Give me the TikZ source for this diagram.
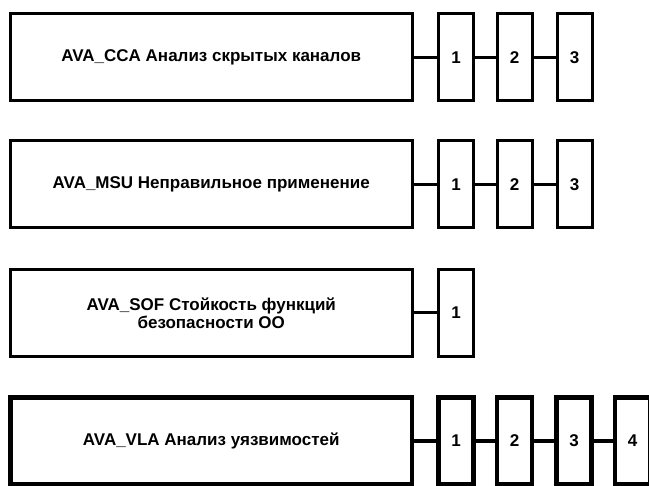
\documentclass[tikz,border=0pt]{standalone}
\usepackage{fontspec}
\setmainfont{Liberation Sans}
\begin{document}
\begin{tikzpicture}[x=1pt,y=-1pt,
  bigbox/.style={draw,rectangle,minimum width=401.5pt,minimum height=87pt,inner sep=0pt,
    font=\fontsize{17}{18}\selectfont\bfseries,align=center},
  smallbox/.style={draw,rectangle,minimum width=35pt,minimum height=87pt,inner sep=0pt,
    font=\fontsize{17}{18}\selectfont\bfseries},
  thin/.style={line width=3pt},
  thick4/.style={line width=4.5pt}]
\useasboundingbox (0,0) rectangle (649,486);
% row 1
\begin{scope}[thin]
\node[bigbox] (cca) at (211.25,57.5) {AVA\_CCA Анализ скрытых каналов};
\node[smallbox] (cca1) at (456,57.5) {1};
\node[smallbox] (cca2) at (514.5,57.5) {2};
\node[smallbox] (cca3) at (574.5,57.5) {3};
\draw (cca.east) -- (cca1.west);
\draw (cca1.east) -- (cca2.west);
\draw (cca2.east) -- (cca3.west);
\end{scope}
% row 2
\begin{scope}[thin]
\node[bigbox] (msu) at (211.25,184.5) {AVA\_MSU Неправильное применение};
\node[smallbox] (msu1) at (456,184.5) {1};
\node[smallbox] (msu2) at (514.5,184.5) {2};
\node[smallbox] (msu3) at (574.5,184.5) {3};
\draw (msu.east) -- (msu1.west);
\draw (msu1.east) -- (msu2.west);
\draw (msu2.east) -- (msu3.west);
\end{scope}
% row 3
\begin{scope}[thin]
\node[bigbox] (sof) at (211.25,313) {AVA\_SOF Стойкость функций\\безопасности ОО};
\node[smallbox] (sof1) at (456,313) {1};
\draw (sof.east) -- (sof1.west);
\end{scope}
% row 4
\begin{scope}[thick4]
\node[bigbox] (vla) at (211.25,441) {AVA\_VLA Анализ уязвимостей};
\node[smallbox] (vla1) at (456,441) {1};
\node[smallbox] (vla2) at (514.5,441) {2};
\node[smallbox] (vla3) at (574,441) {3};
\node[smallbox] (vla4) at (632.5,441) {4};
\draw (vla.east) -- (vla1.west);
\draw (vla1.east) -- (vla2.west);
\draw (vla2.east) -- (vla3.west);
\draw (vla3.east) -- (vla4.west);
\end{scope}
\end{tikzpicture}
\end{document}
